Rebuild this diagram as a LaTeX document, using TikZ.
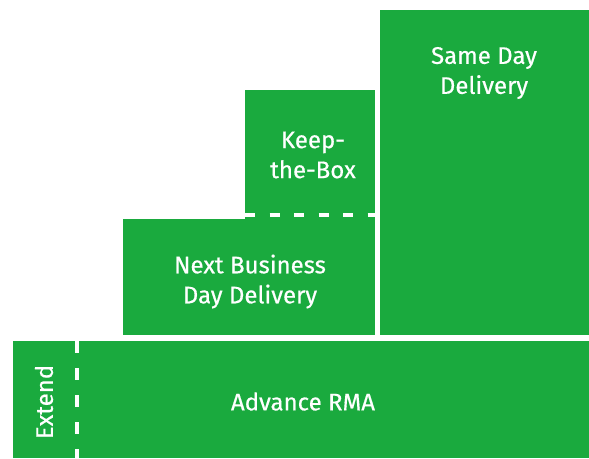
\documentclass[tikz,border=0pt]{standalone}
\usepackage{fontspec}
\setmainfont{Fira Sans}
\newfontfamily\lblfont{Fira Sans}[FakeBold=0.5]
\definecolor{boxgreen}{RGB}{26,170,62}
\begin{document}
\begin{tikzpicture}[x=1pt,y=-1pt,
  box/.style={fill=boxgreen, draw=none, inner sep=0pt, anchor=north west},
  lbl/.style={text=white, font=\lblfont\fontsize{24}{30}\selectfont, align=center, inner sep=0pt},
  sep/.style={white, line width=4.5pt}]
\useasboundingbox (0,0) rectangle (589,458);
\node[box, minimum width=576pt, minimum height=117pt] (rma) at (13,341) {};
\node[box, minimum width=252pt, minimum height=116pt] (nbd) at (123,219) {};
\node[box, minimum width=130pt, minimum height=129pt] (ktb) at (245,90) {};
\node[box, minimum width=209pt, minimum height=325pt] (sdd) at (380,10) {};
\coordinate (h1) at (245,215);
\coordinate (h2) at (375,215);
\coordinate (v1) at (77,341);
\coordinate (v2) at (77,458);
\draw[sep, dash pattern=on 10pt off 14.5pt] (h1) -- (h2);
\draw[sep, dash pattern=on 12pt off 15pt] (v1) -- (v2);
\node[lbl] (trma) at (303,401.5) {Advance RMA};
\node[lbl] (tnbd) at (250,281.5) {Next Business\\Day Delivery};
\node[lbl] (tktb) at (313,155) {Keep-\\the-Box};
\node[lbl] (tsdd) at (484,73) {Same Day\\Delivery};
\node[lbl, rotate=90] (text) at (44,402) {Extend};
\end{tikzpicture}
\end{document}
